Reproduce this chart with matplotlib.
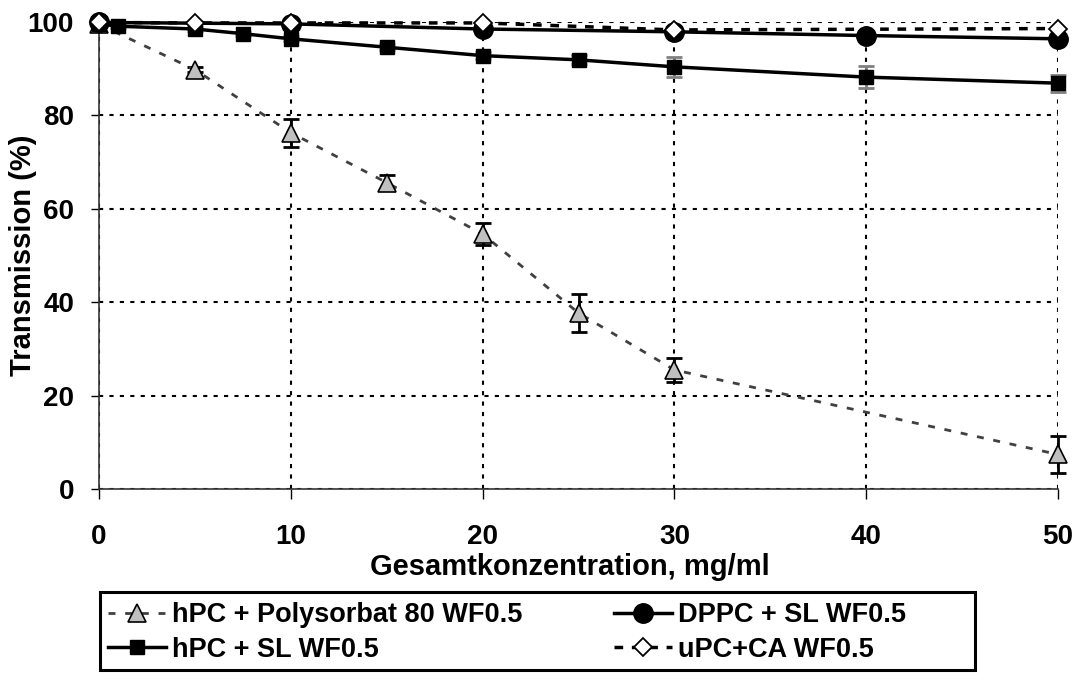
import matplotlib
matplotlib.use("Agg")
import matplotlib.pyplot as plt
from matplotlib.patches import Rectangle

plt.rcParams['font.family'] = ['Liberation Sans', 'DejaVu Sans']
plt.rcParams['font.weight'] = 'bold'

# Data
x_ps80 = [0, 5, 10, 15, 20, 25, 30, 50]
y_ps80 = [99.5, 89.8, 76.3, 65.6, 54.6, 37.7, 25.5, 7.4]
e_ps80 = [0.3, 0.5, 3.0, 1.6, 2.3, 4.1, 2.5, 4.0]

x_sl = [0, 1, 5, 7.5, 10, 15, 20, 25, 30, 40, 50]
y_sl = [99.6, 99.1, 98.5, 97.5, 96.4, 94.6, 92.8, 91.9, 90.4, 88.2, 86.9]
e_sl = [0.2, 0.3, 0.4, 0.4, 0.5, 0.6, 0.7, 1.0, 2.1, 2.3, 1.8]

x_dppc = [0, 10, 20, 30, 40, 50]
y_dppc = [99.9, 99.6, 98.5, 97.9, 97.1, 96.4]

x_upc = [0, 5, 10, 20, 30, 50]
y_upc = [99.9, 99.8, 99.8, 99.8, 98.3, 98.6]

labels = ['hPC + Polysorbat 80 WF0.5', 'hPC + SL WF0.5', 'DPPC + SL WF0.5', 'uPC+CA WF0.5']
xticks = [0, 10, 20, 30, 40, 50]
yticks = [0, 20, 40, 60, 80, 100]

W, H = 1078, 673
fig = plt.figure(figsize=(W/100, H/100), dpi=100)
ax = fig.add_axes([99/W, 1-489/H, (1058-99)/W, (489-22)/H])

# Triangles
ax.errorbar(x_ps80, y_ps80, yerr=e_ps80, fmt='none', ecolor='black', elinewidth=2,
            capsize=6, capthick=2, zorder=2, clip_on=False)
h1, = ax.plot(x_ps80, y_ps80, color='#404040', linestyle=(0, (2.5, 3.5)), linewidth=2,
              marker='^', markersize=13, markerfacecolor='#c0c0c0', markeredgecolor='black',
              markeredgewidth=1.2, zorder=3, clip_on=False)
# Squares
ax.errorbar(x_sl, y_sl, yerr=e_sl, fmt='none', ecolor='#808080', elinewidth=2,
            capsize=6, capthick=2, zorder=4, clip_on=False)
h2, = ax.plot(x_sl, y_sl, color='black', linestyle='-', linewidth=2.5,
              marker='s', markersize=9.5, markerfacecolor='black', markeredgecolor='black',
              zorder=5, clip_on=False)
# Circles
h3, = ax.plot(x_dppc, y_dppc, color='black', linestyle='-', linewidth=2.5,
              marker='o', markersize=14, markerfacecolor='black', markeredgecolor='black',
              zorder=6, clip_on=False)
# Diamonds
h4, = ax.plot(x_upc, y_upc, color='black', linestyle=(0, (2.5, 2.5)), linewidth=2.5,
              marker='D', markersize=9, markerfacecolor='white', markeredgecolor='black',
              markeredgewidth=1.3, zorder=7, clip_on=False)

ax.set_xlim(0, 50)
ax.set_ylim(0, 100)
ax.set_xticks(xticks)
ax.set_yticks(yticks)
ax.tick_params(axis='x', direction='out', length=7, width=1, labelsize=20, pad=18)
ax.tick_params(axis='y', direction='out', length=6, width=1, labelsize=20, pad=12)
for lbl in ax.get_xticklabels() + ax.get_yticklabels():
    lbl.set_fontweight('bold')
ax.grid(True, color='black', linestyle=(0, (2, 3)), linewidth=1.5, zorder=0)
ax.set_axisbelow(True)
for s in ['top', 'right']:
    ax.spines[s].set_visible(False)
for s in ['left', 'bottom']:
    ax.spines[s].set_linewidth(1.2)
    ax.spines[s].set_color('#333333')

ax.set_xlabel('Gesamtkonzentration, mg/ml', fontsize=21, fontweight='bold')
ax.xaxis.set_label_coords((570-99)/(1058-99), (489-553)/(489-22))
ax.set_ylabel('Transmission (%)', fontsize=21, fontweight='bold')
ax.yaxis.set_label_coords((37-99)/(1058-99), 0.5)

leg = fig.legend([h1, h2, h3, h4], labels, ncol=2, loc='upper left',
                 bbox_to_anchor=(108/W, 1-602/H),
                 prop={'weight': 'bold', 'size': 19.5},
                 frameon=False, handlelength=2.15, handletextpad=0.2,
                 borderpad=0, borderaxespad=0, labelspacing=0.33, columnspacing=3.4)
fig.patches.append(Rectangle((100/W, 1-670/H), (975-100)/W, (670-592)/H,
                             transform=fig.transFigure, fill=False,
                             edgecolor='black', linewidth=2.2))

fig.savefig('out.png', dpi=100)
